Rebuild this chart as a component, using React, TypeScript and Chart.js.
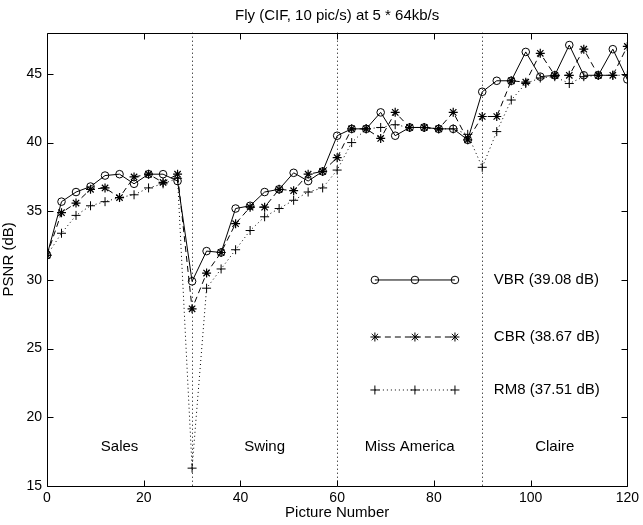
import React, { useEffect, useRef } from "react";
import { Chart, registerables } from "chart.js";

Chart.register(...registerables);

const chartTitle = "Fly (CIF, 10 pic/s) at 5 * 64kb/s";
const xTitle = "Picture Number";
const yTitle = "PSNR (dB)";

const pictures = [
  0, 3, 6, 9, 12, 15, 18, 21, 24, 27, 30, 33, 36, 39, 42, 45, 48, 51, 54, 57, 60,
  63, 66, 69, 72, 75, 78, 81, 84, 87, 90, 93, 96, 99, 102, 105, 108, 111, 114, 117, 120,
];

const vbr = [
  31.8, 35.7, 36.4, 36.8, 37.6, 37.7, 37.0, 37.7, 37.7, 37.2,
  29.9, 32.1, 32.0, 35.2, 35.4, 36.4, 36.6, 37.8, 37.2, 37.9,
  40.5, 41.0, 41.0, 42.2, 40.5, 41.1, 41.1, 41.0, 41.0, 40.2,
  43.7, 44.5, 44.5, 46.6, 44.8, 44.9, 47.1, 44.9, 44.9, 46.8, 44.6,
];

const cbr = [
  31.8, 34.9, 35.6, 36.6, 36.7, 36.0, 37.5, 37.7, 37.1, 37.7,
  27.9, 30.5, 32.0, 34.1, 35.3, 35.3, 36.6, 36.5, 37.7, 37.9,
  38.9, 41.0, 41.0, 40.3, 42.2, 41.1, 41.1, 41.0, 42.2, 40.2,
  41.9, 41.9, 44.5, 44.4, 46.5, 44.9, 44.9, 46.8, 44.9, 44.9, 47.0,
];

const rm8 = [
  31.8, 33.4, 34.7, 35.4, 35.7, 36.0, 36.2, 36.7, 37.0, 37.4,
  16.3, 29.4, 30.8, 32.2, 33.6, 34.6, 35.2, 35.8, 36.4, 36.7,
  38.0, 40.0, 41.0, 41.1, 41.3, 41.1, 41.1, 41.0, 41.0, 40.6,
  38.2, 40.8, 43.1, 44.3, 44.7, 44.8, 44.3, 44.8, 44.9, 44.9, 44.9,
];

const legendNames = ["VBR (39.08 dB)", "CBR (38.67 dB)", "RM8 (37.51 dB)"];
const sequenceNames = ["Sales", "Swing", "Miss America", "Claire"];
const sequenceCenters = [15, 45, 75, 105];
const sequenceLabelY = 17.85;
const sequenceBounds = [30, 60, 90];
const xTicks = [0, 20, 40, 60, 80, 100, 120];
const yTicks = [15, 20, 25, 30, 35, 40, 45];

const FONT = "'Liberation Sans', Arial, Helvetica, sans-serif";
const TICK_SIZE = 14;
const TEXT_SIZE = 15;

function drawMarker(ctx: CanvasRenderingContext2D, style: string, x: number, y: number, r: number) {
  ctx.beginPath();
  if (style === "circle") {
    ctx.arc(x, y, r, 0, Math.PI * 2);
  } else if (style === "star") {
    ctx.moveTo(x - r, y);
    ctx.lineTo(x + r, y);
    ctx.moveTo(x, y - r);
    ctx.lineTo(x, y + r);
    const d = r * Math.SQRT1_2;
    ctx.moveTo(x - d, y - d);
    ctx.lineTo(x + d, y + d);
    ctx.moveTo(x - d, y + d);
    ctx.lineTo(x + d, y - d);
  } else {
    ctx.moveTo(x - r, y);
    ctx.lineTo(x + r, y);
    ctx.moveTo(x, y - r);
    ctx.lineTo(x, y + r);
  }
  ctx.stroke();
}

const overlayPlugin = {
  id: "overlay",
  beforeDatasetsDraw(chart: any) {
    const { ctx, chartArea: a, scales } = chart;
    const x = scales.x;
    ctx.save();
    ctx.strokeStyle = "#000";
    ctx.lineWidth = 1;
    ctx.setLineDash([1, 3]);
    sequenceBounds.forEach((v) => {
      const px = Math.round(x.getPixelForValue(v)) + 0.5;
      ctx.beginPath();
      ctx.moveTo(px, a.top);
      ctx.lineTo(px, a.bottom);
      ctx.stroke();
    });
    ctx.restore();
  },
  afterDraw(chart: any) {
    const { ctx, chartArea: a, scales } = chart;
    const x = scales.x;
    const y = scales.y;
    ctx.save();
    ctx.strokeStyle = "#000";
    ctx.lineWidth = 1;
    ctx.setLineDash([]);
    const L = Math.round(a.left) + 0.5;
    const R = Math.round(a.right) + 0.5;
    const T = Math.round(a.top) + 0.5;
    const B = Math.round(a.bottom) + 0.5;
    ctx.beginPath();
    ctx.rect(L, T, R - L, B - T);
    ctx.stroke();
    const tl = 6;
    ctx.beginPath();
    xTicks.forEach((v) => {
      const px = Math.round(x.getPixelForValue(v)) + 0.5;
      ctx.moveTo(px, B);
      ctx.lineTo(px, B - tl);
      ctx.moveTo(px, T);
      ctx.lineTo(px, T + tl);
    });
    yTicks.forEach((v) => {
      const py = Math.round(y.getPixelForValue(v)) + 0.5;
      ctx.moveTo(L, py);
      ctx.lineTo(L + tl, py);
      ctx.moveTo(R, py);
      ctx.lineTo(R - tl, py);
    });
    ctx.stroke();

    ctx.fillStyle = "#000";
    ctx.font = `${TEXT_SIZE}px ${FONT}`;
    ctx.textAlign = "center";
    ctx.textBaseline = "middle";
    sequenceNames.forEach((name, i) => {
      ctx.fillText(name, x.getPixelForValue(sequenceCenters[i]), y.getPixelForValue(sequenceLabelY));
    });

    const styles = ["circle", "star", "cross"];
    const dashes = [[], [6, 4], [1, 3]];
    const x0 = a.left + 0.565 * a.width;
    const x1 = a.left + 0.703 * a.width;
    const xt = a.left + 0.770 * a.width;
    const rows = [0.5455, 0.6713, 0.7882];
    rows.forEach((f, i) => {
      const py = a.top + f * a.height;
      ctx.setLineDash(dashes[i]);
      ctx.beginPath();
      ctx.moveTo(x0, py);
      ctx.lineTo(x1, py);
      ctx.stroke();
      ctx.setLineDash([]);
      [x0, (x0 + x1) / 2, x1].forEach((mx) => drawMarker(ctx, styles[i], mx, py, i === 0 ? 3.8 : 4.5));
      ctx.textAlign = "left";
      ctx.fillText(legendNames[i], xt, py);
    });
    ctx.restore();
  },
};

function makeData(values: number[]) {
  return pictures.map((p, i) => ({ x: p, y: values[i] }));
}

export default function App() {
  const canvasRef = useRef<HTMLCanvasElement | null>(null);

  useEffect(() => {
    document.body.style.margin = "0";
    const canvas = canvasRef.current;
    if (!canvas) return;
    Chart.defaults.font.family = FONT;
    Chart.defaults.font.size = TICK_SIZE;
    Chart.defaults.color = "#000";

    const chart = new Chart(canvas, {
      type: "line",
      data: {
        datasets: [
          {
            label: legendNames[0],
            data: makeData(vbr),
            borderColor: "#000",
            backgroundColor: "transparent",
            borderWidth: 1,
            pointStyle: "circle",
            pointRadius: 3.8,
            pointBorderColor: "#000",
            pointBackgroundColor: "transparent",
            pointBorderWidth: 1,
          },
          {
            label: legendNames[1],
            data: makeData(cbr),
            borderColor: "#000",
            backgroundColor: "transparent",
            borderWidth: 1,
            borderDash: [6, 4],
            pointStyle: "star",
            pointRadius: 4.5,
            pointBorderColor: "#000",
            pointBorderWidth: 1.2,
          },
          {
            label: legendNames[2],
            data: makeData(rm8),
            borderColor: "#000",
            backgroundColor: "transparent",
            borderWidth: 1,
            borderDash: [1, 3],
            pointStyle: "cross",
            pointRadius: 4.5,
            pointBorderColor: "#000",
            pointBorderWidth: 1,
          },
        ],
      },
      options: {
        responsive: false,
        animation: false,
        devicePixelRatio: 1,
        layout: { padding: { left: 0, right: 14, top: 0, bottom: 0 } },
        plugins: {
          legend: { display: false },
          tooltip: { enabled: false },
          title: {
            display: true,
            fullSize: false,
            text: chartTitle,
            color: "#000",
            font: { size: TEXT_SIZE, weight: "normal", family: FONT },
            padding: { top: 6.5, bottom: 8.2 },
          },
        },
        scales: {
          x: {
            type: "linear",
            min: 0,
            max: 120,
            grid: { display: false, drawTicks: false },
            border: { display: false },
            ticks: { stepSize: 20, padding: 4, color: "#000", maxRotation: 0 },
            title: {
              display: true,
              text: xTitle,
              color: "#000",
              font: { size: TEXT_SIZE, family: FONT },
              padding: { top: 0, bottom: 3 },
            },
            afterFit: (scale: any) => {
              scale.height = 39;
            },
          },
          y: {
            type: "linear",
            min: 15,
            max: 48,
            grid: { display: false, drawTicks: false },
            border: { display: false },
            ticks: { stepSize: 5, padding: 5, color: "#000" },
            afterBuildTicks: (scale: any) => {
              scale.ticks = scale.ticks.filter((t: any) => yTicks.includes(t.value));
            },
            title: {
              display: true,
              text: yTitle,
              color: "#000",
              font: { size: TEXT_SIZE, family: FONT },
              padding: { top: 0, bottom: 0 },
            },
            afterFit: (scale: any) => {
              scale.width = 47;
            },
          },
        },
      },
      plugins: [overlayPlugin],
    } as any);

    return () => chart.destroy();
  }, []);

  return <canvas ref={canvasRef} width={643} height={525} style={{ display: "block" }} />;
}
